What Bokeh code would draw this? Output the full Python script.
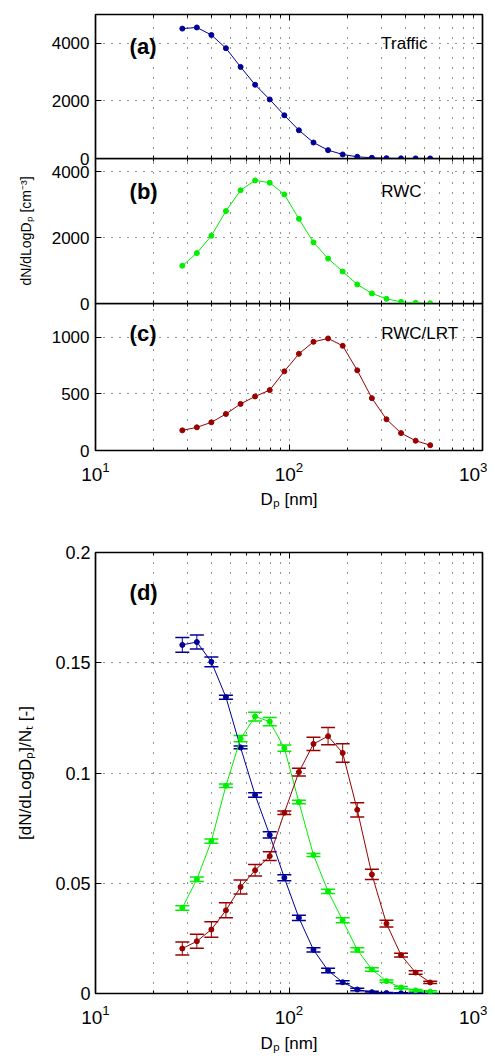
import math
from bokeh.plotting import figure
from bokeh.layouts import column
from bokeh.models import (Range1d, FixedTicker, LogAxis, LinearAxis, Label,
                          ColumnDataSource, Whisker, TeeHead, CustomJSTickFormatter)
from bokeh.embed import file_html
from bokeh.resources import INLINE

# ---------------- data ----------------
D_NM = [28.1, 33.4, 39.7, 47.2, 56.2, 66.8, 79.5, 94.6, 112.5, 133.8,
        159.2, 189.4, 225.3, 268.1, 318.9, 379.3, 451.3, 536.8]

TRAFFIC = [4510, 4550, 4290, 3830, 3180, 2560, 2050, 1500, 980, 555,
           290, 140, 60, 25, 10, 5, 3, 2]
RWC = [1145, 1530, 2055, 2805, 3435, 3735, 3665, 3310, 2570, 1855,
       1365, 970, 578, 305, 142, 50, 20, 8]
RWC_LRT = [178, 205, 249, 323, 412, 478, 534, 700, 855, 961,
           991, 926, 709, 463, 276, 154, 86, 47]

NORM_TRAFFIC = [0.1581, 0.1594, 0.1504, 0.1344, 0.1116, 0.0900, 0.0719, 0.0525, 0.0343,
                0.0198, 0.0104, 0.0051, 0.0018, 0.0006, 0.0002, 0.0001, 0.0000, 0.0000]
ERR_TRAFFIC = [0.0033, 0.0032, 0.0022, 0.0009, 0.0006, 0.0010, 0.0014, 0.0014, 0.0012,
               0.0010, 0.0010, 0.0007, 0.0006, 0.0004, 0.0003, 0.0002, 0.0002, 0.0002]
NORM_RWC = [0.0388, 0.0518, 0.0691, 0.0942, 0.1156, 0.1256, 0.1233, 0.1113, 0.0868,
            0.0628, 0.0463, 0.0332, 0.0198, 0.0109, 0.0056, 0.0027, 0.0014, 0.0008]
ERR_RWC = [0.0010, 0.0010, 0.0010, 0.0008, 0.0014, 0.0020, 0.0019, 0.0014, 0.0008,
           0.0007, 0.0010, 0.0011, 0.0010, 0.0008, 0.0005, 0.0005, 0.0004, 0.0004]
NORM_LRT = [0.0204, 0.0237, 0.0290, 0.0377, 0.0483, 0.0559, 0.0623, 0.0820, 0.1004,
            0.1132, 0.1167, 0.1091, 0.0833, 0.0540, 0.0317, 0.0174, 0.0095, 0.0050]
ERR_LRT = [0.0029, 0.0032, 0.0035, 0.0034, 0.0032, 0.0026, 0.0020, 0.0008, 0.0018,
           0.0030, 0.0039, 0.0042, 0.0032, 0.0023, 0.0015, 0.0009, 0.0008, 0.0005]

X_MAJOR = [10, 100, 1000]
X_MINOR = [20, 30, 40, 50, 60, 70, 80, 90, 200, 300, 400, 500, 600, 700, 800, 900]
Y_TICKS_A = [0, 2000, 4000]
Y_TICKS_B = [0, 2000, 4000]
Y_TICKS_C = [0, 500, 1000]
Y_TICKS_D = [0, 0.05, 0.1, 0.15, 0.2]
Y_LABELS_D = ["0", "0.05", "0.1", "0.15", "0.2"]

PANEL_TAGS = ["(a)", "(b)", "(c)", "(d)"]
PANEL_NAMES = ["Traffic", "RWC", "RWC/LRT"]
X_LABEL = "D\u209a [nm]"
Y_LABEL_TOP = "dN/dLogD\u209a [cm\u207b\u00b3]"
Y_LABEL_BOTTOM = "[dN/dLogD\u209a]/N\u209c [-]"

BLUE = "#000099"
GREEN = "#00EE00"
RED = "#990000"
FONT = "Liberation Sans"

EMPTY = CustomJSTickFormatter(code="return '';")


def style_axis(ax, show, size, standoff, minor):
    ax.axis_line_color = None
    ax.major_tick_in = 6
    ax.major_tick_out = 0
    ax.minor_tick_in = 3 if minor else 0
    ax.minor_tick_out = 0
    ax.major_tick_line_color = "black"
    ax.minor_tick_line_color = "black"
    if show:
        ax.major_label_text_font = FONT
        ax.major_label_text_font_size = f"{size}px"
        ax.major_label_text_color = "black"
        ax.major_label_standoff = standoff
    else:
        ax.formatter = EMPTY
        ax.major_label_text_font_size = "1px"
        ax.major_label_text_alpha = 0
        ax.major_label_standoff = 0


def set_axis_label(ax, text, size, standoff):
    ax.axis_label = text
    ax.axis_label_text_font = FONT
    ax.axis_label_text_font_size = f"{size}px"
    ax.axis_label_text_font_style = "normal"
    ax.axis_label_text_color = "black"
    ax.axis_label_standoff = standoff


def make_panel(height, ymax, yticks, b_top, b_bottom, b_left, b_right,
               show_x, tick_size, y_standoff, margin=None, yformatter=None):
    kw = {}
    if margin is not None:
        kw["margin"] = margin
    p = figure(width=487, height=height, x_axis_type="log",
               x_range=Range1d(10, 1000), y_range=Range1d(0, ymax),
               output_backend="svg", toolbar_location=None,
               min_border_top=b_top, min_border_bottom=b_bottom,
               min_border_left=b_left, min_border_right=b_right, **kw)
    p.border_fill_color = None
    p.background_fill_color = None
    p.outline_line_color = "black"
    p.outline_line_width = 1.7

    p.add_layout(LogAxis(), "above")
    p.add_layout(LinearAxis(), "right")

    xt = FixedTicker(ticks=X_MAJOR, minor_ticks=X_MINOR)
    yt = FixedTicker(ticks=yticks)
    for ax in p.xaxis:
        ax.ticker = xt
    for ax in p.yaxis:
        ax.ticker = yt
    if yformatter is not None:
        p.left[0].formatter = yformatter
    for ax in p.below:
        style_axis(ax, show_x, 19, 11, True)
    for ax in p.above:
        style_axis(ax, False, 0, 0, True)
    for ax in p.left:
        style_axis(ax, True, tick_size, y_standoff, False)
    for ax in p.right:
        style_axis(ax, False, 0, 0, False)

    p.xgrid.ticker = xt
    p.xgrid.grid_line_color = "black"
    p.xgrid.grid_line_dash = "1 9"
    p.xgrid.grid_line_alpha = 0.85
    p.xgrid.minor_grid_line_color = "black"
    p.xgrid.minor_grid_line_dash = "1 9"
    p.xgrid.minor_grid_line_alpha = 0.85
    p.ygrid.ticker = yt
    p.ygrid.grid_line_color = "black"
    p.ygrid.grid_line_dash = "1 7"
    p.ygrid.grid_line_alpha = 0.85
    return p


def tag(p, x, y, text):
    p.add_layout(Label(x=x, y=y, text=text, text_font=FONT, text_font_size="22px",
                       text_font_style="bold", text_baseline="alphabetic",
                       text_color="black"))


def name(p, x, y, text):
    p.add_layout(Label(x=x, y=y, text=text, text_font=FONT, text_font_size="17px",
                       text_baseline="alphabetic", text_color="black"))


# ---------------- panel (a) ----------------
pa = make_panel(168, 5000, Y_TICKS_A, 14, 10, 95, 5, False, 17, 6)
pa.line(D_NM, TRAFFIC, line_color=BLUE, line_width=1)
pa.scatter(D_NM, TRAFFIC, size=5, color=BLUE)
tag(pa, 15, 3900, PANEL_TAGS[0])
name(pa, 300, 3980, PANEL_NAMES[0])

# ---------------- panel (b) ----------------
pb = make_panel(155, 4400, Y_TICKS_B, 0, 10, 95, 5, False, 17, 6, margin=(-10, 0, 0, 0))
pb.line(D_NM, RWC, line_color=GREEN, line_width=1)
pb.scatter(D_NM, RWC, size=5, color=GREEN)
tag(pb, 15, 3385, PANEL_TAGS[1])
name(pb, 300, 3390, PANEL_NAMES[1])
set_axis_label(pb.left[0], Y_LABEL_TOP, 14, 15)

# ---------------- panel (c) ----------------
pc = make_panel(217, 1300, Y_TICKS_C, 0, 70, 95, 5, True, 17, 6, margin=(-10, 0, 0, 0))
pc.line(D_NM, RWC_LRT, line_color=RED, line_width=1)
pc.scatter(D_NM, RWC_LRT, size=5, color=RED)
tag(pc, 15, 1035, PANEL_TAGS[2])
name(pc, 300, 1038, PANEL_NAMES[2])
set_axis_label(pc.below[0], X_LABEL, 17, 6)

# ---------------- panel (d) ----------------
fmt_d = CustomJSTickFormatter(args=dict(tick_vals=Y_TICKS_D, tick_texts=Y_LABELS_D), code="""
for (let i = 0; i < tick_vals.length; i++) {
  if (Math.abs(tick_vals[i] - tick) < 1e-9) { return tick_texts[i]; }
}
return '';
""")
pd_ = make_panel(541, 0.2, Y_TICKS_D, 32, 68, 91, 4, True, 18, 5, yformatter=fmt_d)

for vals, errs, col in [(NORM_TRAFFIC, ERR_TRAFFIC, BLUE),
                        (NORM_RWC, ERR_RWC, GREEN),
                        (NORM_LRT, ERR_LRT, RED)]:
    src = ColumnDataSource(dict(x=D_NM, y=vals,
                                lower=[v - e for v, e in zip(vals, errs)],
                                upper=[v + e for v, e in zip(vals, errs)]))
    pd_.add_layout(Whisker(source=src, base="x", lower="lower", upper="upper",
                           line_color=col, line_width=1,
                           upper_head=TeeHead(size=14, line_color=col, line_width=1.5),
                           lower_head=TeeHead(size=14, line_color=col, line_width=1.5)))
    pd_.line("x", "y", source=src, line_color=col, line_width=1)
    pd_.scatter("x", "y", source=src, size=5, color=col)

tag(pd_, 15, 0.182, PANEL_TAGS[3])
set_axis_label(pd_.left[0], Y_LABEL_BOTTOM, 17, 17)
set_axis_label(pd_.below[0], X_LABEL, 17, 7)

layout = column(pa, pb, pc, pd_, spacing=0)
open("out.html", "w").write(file_html(layout, INLINE))
